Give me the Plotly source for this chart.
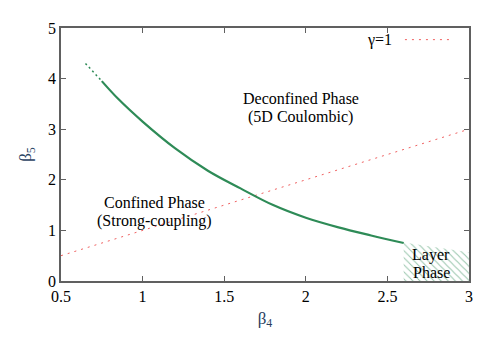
"""Phase diagram in the (beta4, beta5) plane."""
import plotly.graph_objects as go

# --- Data ---
# Transition line (solid)
BETA4_LINE = [0.75, 0.85, 1.0, 1.2, 1.4, 1.6, 1.8, 2.0, 2.2, 2.4, 2.6]
BETA5_LINE = [3.95, 3.6, 3.15, 2.62, 2.18, 1.83, 1.5, 1.25, 1.06, 0.9, 0.75]
# Extrapolated part (dotted)
BETA4_EXT = [0.65, 0.75]
BETA5_EXT = [4.3, 3.95]
# gamma = 1 line
BETA4_GAMMA = [0.5, 3.0]
BETA5_GAMMA = [0.5, 3.0]
# Layer phase region
BETA4_LAYER = [2.6, 3.0, 3.0, 2.6, 2.6]
BETA5_LAYER = [0.76, 0.57, 0.0, 0.0, 0.76]

X_TICKS = [0.5, 1, 1.5, 2, 2.5, 3]
Y_TICKS = [0, 1, 2, 3, 4, 5]

# --- Style ---
GREEN = "#2e8b57"
RED = "#f06060"
FONT = "Liberation Serif"
FONT_SIZE = 16
AXIS_GRAY = "#606060"

fig = go.Figure()

fig.add_trace(go.Scatter(
    x=BETA4_LAYER, y=BETA5_LAYER, mode="lines", fill="toself",
    line=dict(width=0), fillcolor="rgba(0,0,0,0)",
    fillpattern=dict(shape="\\", fgcolor=GREEN, bgcolor="white",
                     size=5, solidity=0.2),
    showlegend=False, hoverinfo="skip",
))
fig.add_trace(go.Scatter(
    x=BETA4_GAMMA, y=BETA5_GAMMA, mode="lines", showlegend=False,
    line=dict(color=RED, width=1, dash="2px,5px"),
))
fig.add_trace(go.Scatter(
    x=BETA4_EXT, y=BETA5_EXT, mode="lines", showlegend=False,
    line=dict(color=GREEN, width=1.5, dash="2px,3px"),
))
fig.add_trace(go.Scatter(
    x=BETA4_LINE, y=BETA5_LINE, mode="lines", showlegend=False,
    line=dict(color=GREEN, width=2.2, shape="spline"),
))

# Region labels, one annotation per line (gnuplot uses tight line spacing)
labels = [
    (1.97, 3.61, "Deconfined Phase"),
    (1.97, 3.24, "(5D Coulombic)"),
    (1.07, 1.55, "Confined Phase"),
    (1.07, 1.18, "(Strong-coupling)"),
    (2.77, 0.52, "Layer"),
    (2.77, 0.17, "Phase"),
]
for x, y, t in labels:
    fig.add_annotation(x=x, y=y, text=t, showarrow=False, borderpad=0,
                       font=dict(family=FONT, size=FONT_SIZE, color="black"))

# Legend drawn gnuplot-style: label first, sample line to its right
fig.add_annotation(x=0.816, y=0.954, xref="paper", yref="paper",
                   xanchor="right", yanchor="middle", text="γ=1",
                   showarrow=False,
                   font=dict(family=FONT, size=FONT_SIZE, color="black"))
fig.add_shape(type="line", xref="paper", yref="paper",
              x0=0.843, x1=0.953, y0=0.954, y1=0.954,
              line=dict(color=RED, width=1, dash="2px,5px"))

axis_common = dict(
    ticks="inside", ticklen=5, tickcolor=AXIS_GRAY, mirror="ticks",
    showline=True, linecolor=AXIS_GRAY, linewidth=1.5, showgrid=False,
    zeroline=False, tickfont=dict(family=FONT, size=FONT_SIZE, color="black"),
)
fig.update_xaxes(range=[0.5, 3], tickvals=X_TICKS,
                 ticktext=[str(v) for v in X_TICKS],
                 title=dict(text="β<sub>4</sub>", standoff=8,
                            font=dict(family=FONT, size=17)),
                 **axis_common)
fig.update_yaxes(range=[0, 5], tickvals=Y_TICKS,
                 title=dict(text="β<sub>5</sub>", standoff=12,
                            font=dict(family=FONT, size=17)),
                 **axis_common)

# page body adds an 8px offset, so margins are shifted to compensate
fig.update_layout(
    width=500, height=350,
    margin=dict(l=53, r=39, t=12, b=77),
    plot_bgcolor="white", paper_bgcolor="white",
    showlegend=False,
)

fig.write_html("out.html")
